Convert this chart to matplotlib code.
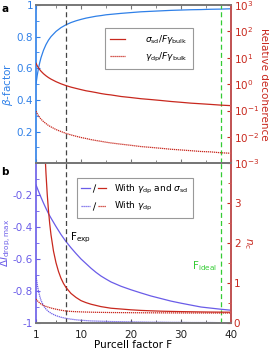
import numpy as np
import matplotlib
matplotlib.use('Agg')
import matplotlib.pyplot as plt
from matplotlib.lines import Line2D
from matplotlib.legend_handler import HandlerTuple

plt.rcParams['font.family'] = ['DejaVu Sans']
plt.rcParams['mathtext.fontset'] = 'dejavusans'

# Purcell factor samples
F = [1, 1.25, 1.5, 1.75, 2, 2.5, 3, 3.5, 4, 5, 6, 7, 8, 9, 10, 11, 12, 13, 14, 15, 16,
     18, 20, 22, 24, 26, 28, 30, 32, 34, 36, 38, 40]

# panel a
beta = [0.5, 0.556, 0.6, 0.636, 0.667, 0.714, 0.75, 0.778, 0.8, 0.833, 0.857, 0.875,
        0.889, 0.9, 0.909, 0.917, 0.923, 0.929, 0.933, 0.938, 0.941, 0.947, 0.952, 0.957,
        0.96, 0.963, 0.966, 0.968, 0.97, 0.971, 0.973, 0.974, 0.976]
sigma_sd_rel = [6.2, 4.95, 4.13, 3.54, 3.1, 2.48, 2.07, 1.77, 1.55, 1.24, 1.03, 0.88,
                0.77, 0.69, 0.62, 0.56, 0.52, 0.48, 0.44, 0.41, 0.39, 0.34, 0.31, 0.28,
                0.26, 0.24, 0.22, 0.205, 0.19, 0.18, 0.17, 0.16, 0.153]
gamma_dp_rel = [0.095, 0.076, 0.063, 0.054, 0.047, 0.038, 0.032, 0.027, 0.024, 0.019,
                0.016, 0.0136, 0.0119, 0.0106, 0.0095, 0.0087, 0.0079, 0.0073, 0.0068,
                0.0063, 0.0059, 0.0053, 0.0048, 0.0043, 0.004, 0.0037, 0.0034, 0.0032,
                0.003, 0.0028, 0.0027, 0.0025, 0.0024]

# panel b
dI_both = [-0.135, -0.155, -0.175, -0.194, -0.213, -0.249, -0.283, -0.315, -0.343, -0.396,
           -0.446, -0.49, -0.529, -0.565, -0.599, -0.628, -0.657, -0.683, -0.706, -0.725,
           -0.743, -0.77, -0.792, -0.812, -0.831, -0.847, -0.863, -0.876, -0.888, -0.9,
           -0.907, -0.914, -0.92]
dI_dp = [-0.705, -0.76, -0.8, -0.832, -0.858, -0.892, -0.913, -0.928, -0.939, -0.954,
         -0.964, -0.971, -0.976, -0.98, -0.983, -0.985, -0.987, -0.988, -0.989, -0.99,
         -0.991, -0.992, -0.993, -0.994, -0.995, -0.995, -0.996, -0.996, -0.997, -0.997,
         -0.997, -0.998, -0.998]
nc_dp = [0.6, 0.56, 0.53, 0.5, 0.475, 0.44, 0.415, 0.395, 0.375, 0.345, 0.32, 0.3, 0.29,
         0.283, 0.278, 0.274, 0.271, 0.268, 0.266, 0.264, 0.262, 0.26, 0.258, 0.256, 0.255,
         0.254, 0.253, 0.252, 0.251, 0.251, 0.25, 0.25, 0.25]
F_nc = [2.8, 3, 3.25, 3.5, 3.75, 4, 4.5, 5, 5.5, 6, 6.5, 7, 8, 9, 10, 11, 12, 13, 14, 15,
        16, 18, 20, 22, 24, 26, 28, 30, 32, 34, 36, 38, 40]
nc_both = [4.25, 3.74, 3.22, 2.81, 2.48, 2.21, 1.8, 1.51, 1.29, 1.12, 0.99, 0.89, 0.74,
           0.64, 0.56, 0.51, 0.47, 0.44, 0.41, 0.39, 0.37, 0.35, 0.33, 0.315, 0.305, 0.296,
           0.29, 0.285, 0.281, 0.277, 0.274, 0.272, 0.27]

F_exp = 7
F_ideal = 38

blue_a = '#2f80e8'
blue_b = '#6a5ce8'
red = '#c8281e'
red_sp = '#e06060'
green = '#33cc33'
grey = '#777777'
fs = 7.5
dot = (0, (1, 0.6))

fig = plt.figure(figsize=(2.69, 3.51), dpi=100)
axa = fig.add_axes([0.1338, 0.5348, 0.7249, 0.451])
axb = fig.add_axes([0.1338, 0.0798, 0.7249, 0.455])
axa2 = axa.twinx()
axb2 = axb.twinx()

# ---- panel a
axa.plot(F, beta, color=blue_a, lw=0.9)
axa2.semilogy(F, sigma_sd_rel, color=red, lw=0.9, label=r'$\sigma_{\rm sd}/F\gamma_{\rm bulk}$')
axa2.semilogy(F, gamma_dp_rel, color=red, lw=0.9, ls=dot,
              label=r'$\gamma_{\rm dp}/F\gamma_{\rm bulk}$')
axa.set_ylim(0, 1)
axa2.set_ylim(1e-3, 1e3)
axa.set_yticks([0.2, 0.4, 0.6, 0.8, 1])
axa.set_yticklabels(['0.2', '0.4', '0.6', '0.8', '1'])
axa.set_yticks(np.arange(0.1, 1.0, 0.1), minor=True)
axa2.set_yticks([1e-3, 1e-2, 1e-1, 1e0, 1e1, 1e2, 1e3])
axa2.set_yticklabels([r'$10^{-3}$', r'$10^{-2}$', r'$10^{-1}$', r'$10^{0}$', r'$10^{1}$',
                      r'$10^{2}$', r'$10^{3}$'])
axa2.yaxis.set_minor_locator(matplotlib.ticker.NullLocator())
axa.set_ylabel(r'$\beta$-factor', color=blue_a, fontsize=fs, labelpad=1)
axa2.set_ylabel('Relative decoherence', color=red, fontsize=fs, rotation=270, labelpad=7)
leg = axa2.legend(loc='upper right', bbox_to_anchor=(0.826, 0.886), fontsize=6.5,
                  handlelength=1.6, handletextpad=2.2, borderpad=0.6, labelspacing=0.5,
                  fancybox=False, edgecolor='#999999', framealpha=1)
leg.get_frame().set_linewidth(0.8)

# ---- panel b
axb.plot(F, dI_both, color=blue_b, lw=0.9)
axb.plot(F, dI_dp, color=blue_b, lw=0.9, ls=dot)
axb2.plot(F_nc, nc_both, color=red, lw=0.9)
axb2.plot(F, nc_dp, color=red, lw=0.9, ls=dot)
axb.set_ylim(-1, 0)
axb2.set_ylim(0, 4)
axb.set_yticks([-1, -0.8, -0.6, -0.4, -0.2])
axb.set_yticklabels(['-1', '-0.8', '-0.6', '-0.4', '-0.2'])
axb.set_yticks(np.arange(-0.9, 0.01, 0.1), minor=True)
axb2.set_yticks([0, 1, 2, 3])
axb2.set_yticks([0.5, 1.5, 2.5, 3.5], minor=True)
axb.set_ylabel(r'$\Delta I_{\rm drop,max}$', color=blue_b, fontsize=fs, labelpad=0)
axb2.set_ylabel(r'$n_{\rm c}$', color=red, fontsize=fs, rotation=270, labelpad=10)
axb.set_xlabel('Purcell factor F', fontsize=fs, labelpad=0)

slash = dict(color='k', ls='none', marker='$/$', markersize=6, markeredgewidth=0)
h1 = (Line2D([], [], color=blue_b, lw=0.9),
      Line2D([], [], **slash),
      Line2D([], [], color=red, lw=0.9))
h2 = (Line2D([], [], color=blue_b, lw=0.9, ls=dot),
      Line2D([], [], **slash),
      Line2D([], [], color=red, lw=0.9, ls=dot))
legb = axb2.legend([h1, h2], [r'With $\gamma_{\rm dp}$ and $\sigma_{\rm sd}$', r'With $\gamma_{\rm dp}$'],
                   handler_map={tuple: HandlerTuple(ndivide=None, pad=0)},
                   loc='upper left', bbox_to_anchor=(0.185, 0.935), fontsize=6.5,
                   handlelength=2.8, handletextpad=0.9, borderpad=0.5, labelspacing=0.5,
                   fancybox=False, edgecolor='#999999', framealpha=1)
legb.get_frame().set_linewidth(0.8)

for ax in (axa, axb):
    ax.axvline(F_exp, color='#444444', ls=(0, (4, 2.5)), lw=0.9)
    ax.axvline(F_ideal, color=green, ls=(0, (4, 2.5)), lw=0.9)
    ax.set_xlim(1, 40)
    ax.set_xticks([1, 10, 20, 30, 40])
    ax.set_xticks([5, 15, 25, 35], minor=True)

axb.text(7.8, -0.42, r'F$_{\rm exp}$', fontsize=fs, color='k', va='top')
axb.text(37.2, -0.6, r'F$_{\rm ideal}$', fontsize=fs, color=green, ha='right', va='top')

axa.tick_params(axis='x', which='both', direction='in', top=True, bottom=True,
                labelbottom=False, colors=grey, length=3)
axa.tick_params(axis='x', which='minor', length=2)
axb.tick_params(axis='x', which='both', direction='in', top=False, labelsize=fs,
                colors='#555555', labelcolor='#222222', length=3, pad=5)
axb.tick_params(axis='x', which='minor', length=2)

for ax, c in ((axa, blue_a), (axb, blue_b)):
    ax.tick_params(axis='y', which='both', direction='in', colors=c, labelsize=fs, pad=2)
    ax.tick_params(axis='y', which='major', length=3)
    ax.tick_params(axis='y', which='minor', length=2)
    ax.spines['left'].set_color(c)
    ax.spines['top'].set_color(grey)
    ax.spines['bottom'].set_color(grey)
for ax in (axa2, axb2):
    ax.tick_params(axis='y', which='both', direction='in', colors=red, labelsize=fs, pad=2)
    ax.tick_params(axis='y', which='major', length=3)
    ax.tick_params(axis='y', which='minor', length=2)
    ax.spines['right'].set_color(red_sp)
    ax.spines['left'].set_visible(False)
    ax.spines['top'].set_color(grey)
    ax.spines['bottom'].set_color(grey)

for ax in (axa, axa2, axb, axb2):
    for s in ax.spines.values():
        s.set_linewidth(1.2)

fig.text(0.005, 0.99, 'a', fontsize=fs, fontweight='bold', va='top')
fig.text(0.005, 0.525, 'b', fontsize=fs, fontweight='bold', va='top')

fig.savefig('out.png', dpi=100)
